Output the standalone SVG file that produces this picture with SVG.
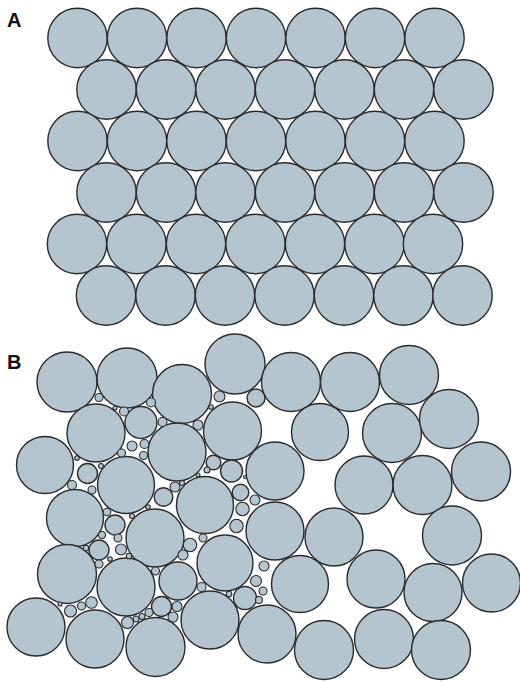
<svg xmlns="http://www.w3.org/2000/svg" width="520" height="682" viewBox="0 0 520 682">
<style>
circle{fill:#b4c5cf;stroke:#2b2b2b;stroke-width:1.4}
.s circle{stroke-width:1.1}
text{font-family:"Liberation Sans",Arial,sans-serif;font-weight:bold;font-size:20px;fill:#111}
</style>
<rect width="520" height="682" fill="#fff"/>
<g id="panelA">
<text x="7" y="27">A</text>
<g id="rowA1">
<circle cx="77.5" cy="38" r="29.7"/><circle cx="137" cy="38" r="29.7"/><circle cx="196.5" cy="38" r="29.7"/><circle cx="256" cy="38" r="29.7"/><circle cx="315.5" cy="38" r="29.7"/><circle cx="375" cy="38" r="29.7"/><circle cx="434.5" cy="38" r="29.7"/>
</g>
<g id="rowA2">
<circle cx="106.5" cy="89.5" r="29.7"/><circle cx="166" cy="89.5" r="29.7"/><circle cx="225.5" cy="89.5" r="29.7"/><circle cx="285" cy="89.5" r="29.7"/><circle cx="344.5" cy="89.5" r="29.7"/><circle cx="404" cy="89.5" r="29.7"/><circle cx="463.5" cy="89.5" r="29.7"/>
</g>
<g id="rowA3">
<circle cx="77.5" cy="141" r="29.7"/><circle cx="137" cy="141" r="29.7"/><circle cx="196.5" cy="141" r="29.7"/><circle cx="256" cy="141" r="29.7"/><circle cx="315.5" cy="141" r="29.7"/><circle cx="375" cy="141" r="29.7"/><circle cx="434.5" cy="141" r="29.7"/>
</g>
<g id="rowA4">
<circle cx="106.5" cy="192.5" r="29.7"/><circle cx="166" cy="192.5" r="29.7"/><circle cx="225.5" cy="192.5" r="29.7"/><circle cx="285" cy="192.5" r="29.7"/><circle cx="344.5" cy="192.5" r="29.7"/><circle cx="404" cy="192.5" r="29.7"/><circle cx="463.5" cy="192.5" r="29.7"/>
</g>
<g id="rowA5">
<circle cx="77" cy="244" r="29.7"/><circle cx="136.5" cy="244" r="29.7"/><circle cx="196" cy="244" r="29.7"/><circle cx="255.5" cy="244" r="29.7"/><circle cx="315" cy="244" r="29.7"/><circle cx="374.5" cy="244" r="29.7"/><circle cx="433" cy="244" r="29.7"/>
</g>
<g id="rowA6">
<circle cx="106" cy="295.5" r="29.7"/><circle cx="165.5" cy="295.5" r="29.7"/><circle cx="225" cy="295.5" r="29.7"/><circle cx="284.5" cy="295.5" r="29.7"/><circle cx="344" cy="295.5" r="29.7"/><circle cx="403.5" cy="295.5" r="29.7"/><circle cx="462.5" cy="295.5" r="29.7"/>
</g>
</g>
<g id="panelB">
<text x="7" y="369">B</text>
<g id="bigB">
<circle cx="67" cy="382" r="30"/>
<circle cx="127" cy="378" r="30"/>
<circle cx="182" cy="394" r="29.5"/>
<circle cx="235" cy="364" r="30"/>
<circle cx="291" cy="382" r="29.5"/>
<circle cx="350" cy="382" r="29.5"/>
<circle cx="409" cy="375" r="29.5"/>
<circle cx="96" cy="433" r="29"/>
<circle cx="45" cy="465" r="28.5"/>
<circle cx="177" cy="452" r="29"/>
<circle cx="232.5" cy="431" r="29"/>
<circle cx="275" cy="471" r="29"/>
<circle cx="320" cy="432" r="28.5"/>
<circle cx="392" cy="433" r="29.5"/>
<circle cx="449" cy="419" r="29.5"/>
<circle cx="126" cy="485" r="28.5"/>
<circle cx="75" cy="518" r="28.5"/>
<circle cx="205" cy="505" r="28.5"/>
<circle cx="275" cy="531" r="29"/>
<circle cx="364" cy="485" r="29"/>
<circle cx="422.5" cy="485" r="29.5"/>
<circle cx="481" cy="471.5" r="29.5"/>
<circle cx="155" cy="538" r="29"/>
<circle cx="334" cy="537" r="29"/>
<circle cx="452" cy="535.5" r="29.5"/>
<circle cx="67" cy="574" r="29.5"/>
<circle cx="126" cy="587" r="29"/>
<circle cx="225" cy="563" r="28"/>
<circle cx="300" cy="584" r="28.5"/>
<circle cx="376" cy="579" r="29"/>
<circle cx="433" cy="592.5" r="29"/>
<circle cx="491.5" cy="583" r="29"/>
<circle cx="36" cy="627" r="29"/>
<circle cx="95" cy="639" r="29"/>
<circle cx="155.5" cy="647" r="29.5"/>
<circle cx="210" cy="620" r="29"/>
<circle cx="267" cy="634" r="29"/>
<circle cx="324" cy="650" r="29.5"/>
<circle cx="384" cy="639" r="29.5"/>
<circle cx="441" cy="650" r="29.5"/>
</g>
<g id="mediumB">
<circle cx="141" cy="422.5" r="16"/>
<circle cx="178" cy="581" r="19"/>
<circle cx="245" cy="598" r="11.5"/>
<circle cx="231.5" cy="471" r="11"/>
<circle cx="256" cy="398" r="9"/>
<circle cx="87.5" cy="473.5" r="10"/>
<circle cx="163.5" cy="497" r="9.3"/>
<circle cx="115" cy="525" r="10"/>
<circle cx="99" cy="550" r="10"/>
<circle cx="161.5" cy="606.5" r="10"/>
<circle cx="213.5" cy="462.5" r="7.3"/>
<circle cx="240.5" cy="492.5" r="8.3"/>
</g>
<g id="smallB" class="s">
<circle cx="99" cy="397.5" r="4"/>
<circle cx="124" cy="411.5" r="4.5"/>
<circle cx="115" cy="408" r="2"/>
<circle cx="151" cy="402.5" r="4.5"/>
<circle cx="162.5" cy="422" r="4.5"/>
<circle cx="144.5" cy="444" r="4.5"/>
<circle cx="132" cy="446" r="5"/>
<circle cx="143.5" cy="455.5" r="4"/>
<circle cx="121.5" cy="453" r="4"/>
<circle cx="101" cy="466" r="2.5"/>
<circle cx="77" cy="458" r="2.3"/>
<circle cx="72" cy="485" r="4.5"/>
<circle cx="92" cy="490" r="4"/>
<circle cx="219.5" cy="396.5" r="5.5"/>
<circle cx="211" cy="407" r="2.3"/>
<circle cx="198" cy="425" r="5"/>
<circle cx="207" cy="470" r="3"/>
<circle cx="198" cy="475" r="2"/>
<circle cx="245" cy="477" r="1.5"/>
<circle cx="175" cy="487" r="5"/>
<circle cx="182" cy="483" r="2.5"/>
<circle cx="148" cy="507" r="2.3"/>
<circle cx="132" cy="516" r="2.5"/>
<circle cx="107" cy="512" r="3.8"/>
<circle cx="102" cy="535" r="3.5"/>
<circle cx="86" cy="548" r="2.8"/>
<circle cx="118" cy="538" r="4"/>
<circle cx="121" cy="549.5" r="5.5"/>
<circle cx="129" cy="556" r="2.8"/>
<circle cx="110" cy="559" r="2.3"/>
<circle cx="99" cy="564" r="4"/>
<circle cx="242.5" cy="509" r="6.7"/>
<circle cx="236.5" cy="526" r="6.7"/>
<circle cx="255" cy="500" r="5"/>
<circle cx="190" cy="545" r="6.7"/>
<circle cx="183" cy="555" r="5"/>
<circle cx="203" cy="538" r="4"/>
<circle cx="155.5" cy="571" r="4"/>
<circle cx="201.5" cy="587" r="4.5"/>
<circle cx="229" cy="594" r="2.8"/>
<circle cx="256" cy="581" r="5.5"/>
<circle cx="264" cy="566" r="5"/>
<circle cx="263" cy="591" r="4"/>
<circle cx="259" cy="600" r="3.5"/>
<circle cx="60" cy="604" r="2"/>
<circle cx="70.5" cy="611" r="6"/>
<circle cx="81.5" cy="606" r="4"/>
<circle cx="91.5" cy="602.5" r="5.8"/>
<circle cx="127.5" cy="622.5" r="6"/>
<circle cx="136" cy="619" r="3"/>
<circle cx="142" cy="616.5" r="3"/>
<circle cx="149" cy="612.5" r="4"/>
<circle cx="173" cy="617" r="5"/>
<circle cx="177" cy="606.5" r="5"/>
</g>
</g>
</svg>
